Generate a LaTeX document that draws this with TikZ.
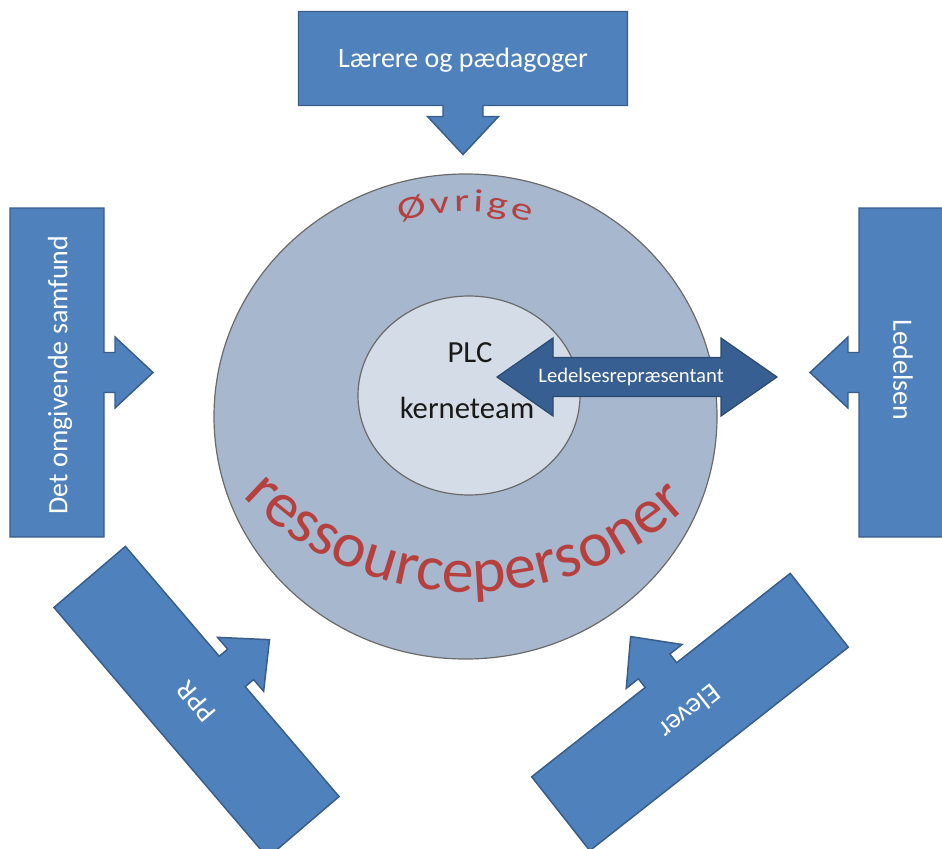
\documentclass[tikz,border=0pt]{standalone}
\usepackage{fontspec}
\setmainfont{Carlito}
\newfontfamily\ovrigefont{Carlito}[FakeStretch=1.35]
\usetikzlibrary{decorations.text}
\definecolor{callfill}{HTML}{4F81BD}
\definecolor{calldraw}{HTML}{385D8A}
\definecolor{arrfill}{HTML}{385F92}
\definecolor{arrdraw}{HTML}{2A4A70}
\definecolor{bigfill}{HTML}{A7B7CE}
\definecolor{innerfill}{HTML}{D4DCE7}
\definecolor{ringdraw}{HTML}{6A6A6A}
\definecolor{redtxt}{HTML}{B6403D}
\tikzset{
  calloutbody/.style={fill=callfill, draw=calldraw, line width=1.1pt, line join=miter},
  callouttext/.style={text=white, font=\fontsize{21}{25}\selectfont, inner sep=0pt},
  callout/.pic={
    \path[calloutbody] (-47,-164.5) -- (47,-164.5) -- (47,-20) -- (58,-20) -- (58,-35.5)
      -- (96,0) -- (58,35.5) -- (58,20) -- (47,20) -- (47,164.5) -- (-47,164.5) -- cycle;
  },
  ring/.style={draw=ringdraw, line width=0.9pt},
  coretext/.style={text=black!90, font=\fontsize{23}{27}\selectfont, inner sep=0pt},
}
\begin{document}
\begin{tikzpicture}[x=0.75pt, y=0.75pt]
\useasboundingbox (0,0) rectangle (942,-849);
% big and inner circles
\path[ring, fill=bigfill] (465.5,-416.5) ellipse [x radius=251.5, y radius=242.5];
\path[ring, fill=innerfill] (469,-395.5) ellipse [x radius=111, y radius=99.5];
% curved texts
\path[decorate, decoration={text along path, text align=fit to path,
  text={|\ovrigefont\fontsize{24}{28}\selectfont\color{redtxt}|Øvrige}}]
  (465.5,-416.5) ++(108.5:205) arc[start angle=108.5, end angle=71.5, radius=205];
\path[decorate, decoration={text along path, text align=fit to path,
  text={|\fontsize{48}{54}\selectfont\color{redtxt}|ressourcepersoner}}]
  (471,-272) ++(224.5:320) arc[start angle=224.5, end angle=313, radius=320];
% core labels
\node[coretext] (plc) at (470,-353) {PLC};
\node[coretext] (kerne) at (467,-408) {kerneteam};
% double arrow
\path[fill=arrfill, draw=arrdraw, line width=0.9pt] (497,-377) -- (553,-338) -- (553,-357.5)
  -- (721,-357.5) -- (721,-338) -- (777,-377) -- (721,-416) -- (721,-396.5)
  -- (553,-396.5) -- (553,-416) -- cycle;
\node[text=white, font=\fontsize{15.5}{19}\selectfont, inner sep=0pt] (repr) at (631,-377) {Ledelsesrepræsentant};
% callouts
\pic[rotate=-90] at (463,-58.5) {callout};
\node[callouttext] (laerere) at (463,-60) {Lærere og pædagoger};
\pic at (57,-372.5) {callout};
\node[callouttext, rotate=90] (samfund) at (60,-375) {Det omgivende samfund};
\pic[rotate=180] at (906,-372.5) {callout};
\node[callouttext, rotate=-90] (ledelsen) at (903,-370) {Ledelsen};
\pic[rotate=40.5] at (196.5,-702) {callout};
\node[callouttext, rotate=130.5] (ppr) at (196.5,-702) {PPR};
\pic[rotate=128.2] at (690,-712) {callout};
\node[callouttext, rotate=218.2] (elever) at (690,-712) {Elever};
\end{tikzpicture}
\end{document}
